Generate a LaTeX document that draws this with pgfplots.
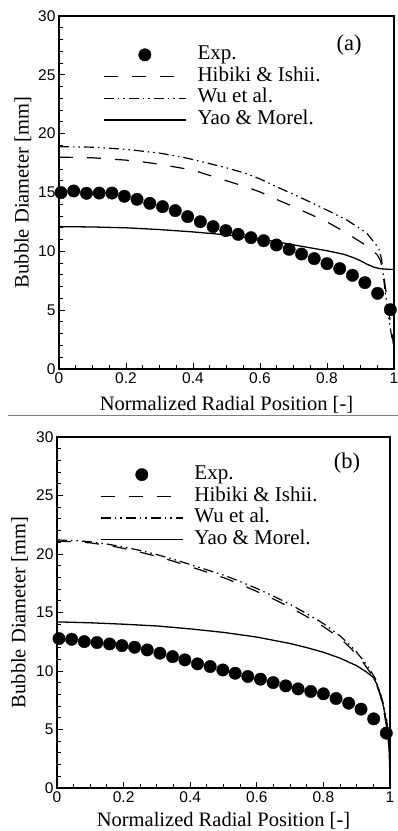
\documentclass[border=0pt]{standalone}
\usepackage{fontspec}
\setmainfont{Liberation Serif}
\newfontfamily\sansfont{Liberation Sans}
\usepackage{pgfplots}
\pgfplotsset{compat=1.18}
\pgfplotsset{
  myaxis/.style={
    scale only axis, xmin=0, xmax=1, ymin=0, ymax=30, clip=false,
    xtick={0,0.2,0.4,0.6,0.8,1}, ytick={0,5,...,30},
    minor x tick num=3, minor y tick num=4,
    tick align=inside, xtick pos=bottom, ytick pos=left,
    major tick length=6pt, minor tick length=4pt,
    tick style={black, line width=0.9pt},
    axis line style={line width=1.6pt},
    ticklabel style={font=\sansfont\fontsize{15.5}{15.5}\selectfont},
    /pgf/number format/assume math mode=true,
    label style={font=\fontsize{20.5}{20.5}\selectfont},
    xlabel={Normalized Radial Position [-]},
    ylabel={Bubble Diameter [mm]},
    legend cell align=left,
    legend style={draw=none, fill=none, font=\fontsize{21}{21}\selectfont,
      row sep=4.2pt, column sep=11pt,
      nodes={inner sep=0pt, text height=13.5pt, text depth=4pt}},
  },
  expst/.style={only marks, mark=*, mark size=6.2pt, black,
    legend image code/.code={\draw[mark repeat=2,mark phase=2,##1] plot coordinates {(0pt,0pt) (41pt,0pt) (82pt,0pt)};}},
  hibst/.style={black, line width=1.2pt, dash pattern=on 14pt off 14pt,
    legend image code/.code={\draw[##1] (0pt,0pt) -- (82pt,0pt);}},
  wust/.style={black, line width=1.2pt, dash pattern=on 10pt off 4pt on 1.5pt off 4pt on 1.5pt off 4pt,
    legend image code/.code={\draw[##1] (0pt,0pt) -- (82pt,0pt);}},
  yaost/.style={black, line width=1.3pt,
    legend image code/.code={\draw[##1] (0pt,0pt) -- (82pt,0pt);}},
}
\begin{document}
\begin{tikzpicture}
\useasboundingbox (0,0) rectangle (398pt,831pt);
% panel (a)
\begin{axis}[myaxis, at={(59pt,462pt)}, anchor=south west, width=335pt, height=353pt,
  xlabel style={at={(axis description cs:0.5,-0.1)}, anchor=center},
  ylabel style={at={(axis description cs:-0.1075,0.5)}, anchor=center},
  legend style={at={(rel axis cs:0.1224,0.921)}, anchor=north west}]
\addplot[expst] coordinates {
(0.006,14.99) (0.044,15.13) (0.082,14.93) (0.120,14.95) (0.158,14.95) (0.195,14.68)
(0.233,14.42) (0.271,14.08) (0.309,13.80) (0.347,13.46) (0.384,12.95) (0.422,12.52)
(0.460,12.10) (0.498,11.76) (0.535,11.44) (0.573,11.16) (0.611,10.90) (0.649,10.54)
(0.687,10.17) (0.724,9.77) (0.762,9.38) (0.800,8.95) (0.838,8.53) (0.876,7.96)
(0.913,7.34) (0.951,6.43) (0.989,5.04)};
\addlegendentry{Exp.}
\addplot[hibst] coordinates {
(0,18.0) (0.05,17.98) (0.1,17.95) (0.15,17.85) (0.2,17.75) (0.25,17.6) (0.3,17.4)
(0.35,17.15) (0.4,16.9) (0.45,16.45) (0.5,16.0) (0.55,15.55) (0.6,15.05) (0.65,14.4)
(0.7,13.8) (0.75,13.15) (0.8,12.5) (0.85,11.7) (0.9,10.8) (0.93,10.25) (0.95,9.7)
(0.96,9.2) (0.97,7.8) (0.98,5.8) (0.99,3.8) (1.0,1.8)};
\addlegendentry{Hibiki \& Ishii.}
\addplot[wust] coordinates {
(0,18.9) (0.1,18.85) (0.2,18.67) (0.3,18.35) (0.36,18.05) (0.4,17.8) (0.45,17.45)
(0.5,17.1) (0.56,16.6) (0.6,16.15) (0.66,15.35) (0.7,14.85) (0.76,14.05) (0.8,13.5)
(0.86,12.65) (0.9,11.9) (0.92,11.5) (0.948,10.5) (0.955,10.2) (0.963,9.3) (0.973,6.7)
(0.983,4.6) (0.993,2.75) (1.0,2.0)};
\addlegendentry{Wu et al.}
\addplot[yaost] coordinates {
(0,12.1) (0.1,12.07) (0.2,12.0) (0.3,11.85) (0.4,11.65) (0.5,11.4) (0.6,11.05)
(0.65,10.8) (0.7,10.55) (0.75,10.3) (0.8,10.05) (0.85,9.75) (0.88,9.45) (0.9,9.2)
(0.92,8.9) (0.94,8.65) (0.96,8.52) (0.98,8.48) (1.0,8.45)};
\addlegendentry{Yao \& Morel.}
\node[font=\fontsize{22.5}{22.5}\selectfont] at (rel axis cs:0.866,0.918) {(a)};
\end{axis}
\draw[gray, line width=1pt] (8pt,415pt) -- (398pt,415pt);
% panel (b)
\begin{axis}[myaxis, at={(57pt,43pt)}, anchor=south west, width=333pt, height=351pt,
  xlabel style={at={(axis description cs:0.5,-0.094)}, anchor=center},
  ylabel style={at={(axis description cs:-0.112,0.5)}, anchor=center},
  legend style={at={(rel axis cs:0.12,0.924)}, anchor=north west}]
\addplot[expst] coordinates {
(0.006,12.77) (0.044,12.71) (0.082,12.51) (0.120,12.43) (0.158,12.31) (0.195,12.17)
(0.233,12.03) (0.271,11.80) (0.309,11.52) (0.347,11.23) (0.384,10.95) (0.422,10.61)
(0.460,10.38) (0.498,10.09) (0.535,9.81) (0.573,9.53) (0.611,9.30) (0.649,9.01)
(0.687,8.73) (0.724,8.47) (0.762,8.25) (0.800,8.05) (0.838,7.65) (0.876,7.25)
(0.913,6.74) (0.951,5.91) (0.989,4.69)};
\addlegendentry{Exp.}
\addplot[hibst] coordinates {
(0,21.1) (0.05,21.05) (0.1,20.95) (0.15,20.75) (0.2,20.48) (0.25,20.15) (0.3,19.8)
(0.35,19.38) (0.4,18.92) (0.45,18.45) (0.5,17.98) (0.55,17.42) (0.6,16.8) (0.65,16.15)
(0.7,15.45) (0.75,14.65) (0.8,13.8) (0.85,12.8) (0.88,12.0) (0.9,11.4) (0.92,10.7)
(0.94,9.9) (0.955,9.2) (0.97,8.0) (0.98,6.8) (0.99,5.2) (0.995,4.0) (1.0,3.0)};
\addlegendentry{Hibiki \& Ishii.}
\addplot[wust] coordinates {
(0,21.2) (0.05,21.15) (0.1,21.05) (0.15,20.85) (0.2,20.6) (0.25,20.3) (0.3,19.95)
(0.35,19.55) (0.4,19.1) (0.45,18.65) (0.5,18.2) (0.55,17.65) (0.6,17.05) (0.65,16.4)
(0.7,15.7) (0.75,14.9) (0.8,14.05) (0.85,13.0) (0.88,12.2) (0.9,11.6) (0.92,10.9)
(0.94,10.1) (0.955,9.4) (0.97,8.2) (0.98,7.2) (0.99,5.8) (0.995,4.5) (1.0,3.5)};
\addlegendentry{Wu et al.}
\addplot[yaost] coordinates {
(0,14.2) (0.1,14.12) (0.2,14.0) (0.3,13.85) (0.4,13.6) (0.5,13.3) (0.6,12.9)
(0.7,12.35) (0.75,12.0) (0.8,11.6) (0.85,11.1) (0.9,10.45) (0.93,9.9) (0.95,9.45)
(0.96,8.9) (0.97,8.1) (0.98,7.0) (0.99,5.5) (0.997,3.5) (1.0,1.0)};
\addlegendentry{Yao \& Morel.}
\node[font=\fontsize{22.5}{22.5}\selectfont] at (rel axis cs:0.871,0.925) {(b)};
\end{axis}
\end{tikzpicture}
\end{document}
